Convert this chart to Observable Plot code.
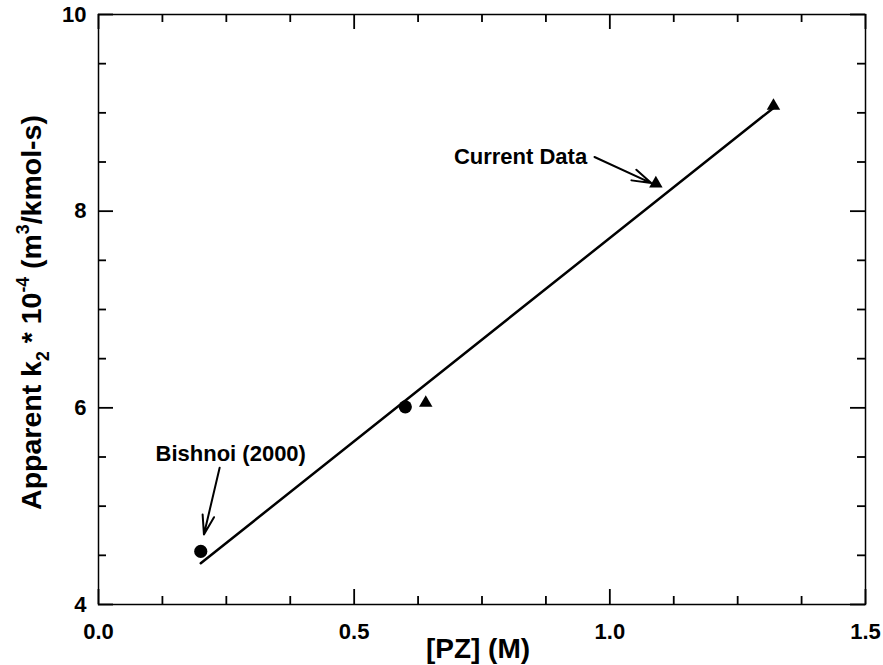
<!DOCTYPE html>
<html>
<head>
<meta charset="utf-8">
<script src="https://cdn.jsdelivr.net/npm/d3@7"></script>
<script src="https://cdn.jsdelivr.net/npm/@observablehq/plot@0.6"></script>
<style>
  html, body { margin: 0; padding: 0; background: #fff; }
  #chart svg text { font-weight: 700; fill: #000; }
</style>
</head>
<body>
<div id="chart"></div>
<script>
// Bishnoi (2000): apparent k2 (×10^-4 m3/kmol-s) against piperazine concentration
const bishnoiPZ = [0.2, 0.6];
const bishnoiK2 = [4.54, 6.01];

// Current data
const currentPZ = [0.64, 1.09, 1.32];
const currentK2 = [6.05, 8.28, 9.07];

// Straight-line fit through the data
const fitPZ = [0.2, 1.32];
const fitK2 = [4.42, 9.05];

// Axis ticks
const xMajorTicks = [0, 0.5, 1.0, 1.5];
const xMinorTicks = [0.125, 0.25, 0.375, 0.625, 0.75, 0.875, 1.125, 1.25, 1.375];
const yMajorTicks = [4, 6, 8, 10];
const yMinorTicks = [4.5, 5, 5.5, 6.5, 7, 7.5, 8.5, 9, 9.5];

// Annotations (data units)
const noteText = ["Current Data", "Bishnoi (2000)"];
const noteX = [0.695, 0.1116];
const noteY = [8.55, 5.536];
const arrowFromX = [0.970, 0.2369];
const arrowFromY = [8.551, 5.391];
const arrowToX = [1.081, 0.2062];
const arrowToY = [8.286, 4.712];

const xLabel = "[PZ] (M)";
const yLabel = "Apparent k2 * 10-4 (m3/kmol-s)";

const W = 883, H = 665, mL = 98, mR = 18, mT = 14, mB = 61;
const innerW = W - mL - mR, innerH = H - mT - mB;
const majorLen = 15, minorLen = 8;
const font = "'Liberation Sans', Arial, Helvetica, sans-serif";

const bishnoi = bishnoiPZ.map((x, i) => ({x, y: bishnoiK2[i]}));
const current = currentPZ.map((x, i) => ({x, y: currentK2[i]}));
const fit = fitPZ.map((x, i) => ({x, y: fitK2[i]}));
const arrows = arrowFromX.map((x1, i) => ({x1, y1: arrowFromY[i], x2: arrowToX[i], y2: arrowToY[i]}));

const tickStyle = {stroke: "#000", strokeWidth: 1.8};

const chart = Plot.plot({
  width: W,
  height: H,
  marginLeft: mL,
  marginRight: mR,
  marginTop: mT,
  marginBottom: mB,
  style: {fontFamily: font, fontWeight: "bold", background: "#fff", color: "#000", overflow: "visible"},
  x: {domain: [0, 1.5]},
  y: {domain: [4, 10]},
  marks: [
    // inward ticks on all four sides
    Plot.tickX(xMajorTicks, {x: d => d, insetTop: innerH - majorLen, ...tickStyle}),
    Plot.tickX(xMinorTicks, {x: d => d, insetTop: innerH - minorLen, ...tickStyle}),
    Plot.tickX(xMajorTicks, {x: d => d, insetBottom: innerH - majorLen, ...tickStyle}),
    Plot.tickX(xMinorTicks, {x: d => d, insetBottom: innerH - minorLen, ...tickStyle}),
    Plot.tickY(yMajorTicks, {y: d => d, insetRight: innerW - majorLen, ...tickStyle}),
    Plot.tickY(yMinorTicks, {y: d => d, insetRight: innerW - minorLen, ...tickStyle}),
    Plot.tickY(yMajorTicks, {y: d => d, insetLeft: innerW - majorLen, ...tickStyle}),
    Plot.tickY(yMinorTicks, {y: d => d, insetLeft: innerW - minorLen, ...tickStyle}),
    Plot.frame({stroke: "#000", strokeWidth: 1.5}),
    // tick labels
    Plot.axisX(xMajorTicks, {tickSize: 0, tickPadding: 19, tickFormat: d3.format(".1f"), fontSize: 22, fontWeight: "bold", label: null}),
    Plot.axisY(yMajorTicks, {tickSize: 0, tickPadding: 12, tickFormat: d => String(d), fontSize: 22, fontWeight: "bold", label: null}),
    // axis titles
    Plot.text([xLabel], {frameAnchor: "bottom", dy: 53, dx: -4, lineAnchor: "bottom", fontSize: 28, fontWeight: "bold"}),
    Plot.text([yLabel], {frameAnchor: "left", dx: -58, dy: 3, rotate: -90, lineAnchor: "bottom", textAnchor: "middle", fontSize: 28.5, fontWeight: "bold"}),
    // fit line and data
    Plot.line(fit, {x: "x", y: "y", stroke: "#000", strokeWidth: 2.5}),
    Plot.dot(bishnoi, {x: "x", y: "y", r: 6.6, fill: "#000", stroke: "none", symbol: "circle"}),
    Plot.dot(current, {x: "x", y: "y", r: 5, fill: "#000", stroke: "none", symbol: "triangle"}),
    // annotations
    Plot.text(noteText, {x: noteX, y: noteY, textAnchor: "start", fontSize: 22, fontWeight: "bold"}),
    Plot.arrow(arrows, {x1: "x1", y1: "y1", x2: "x2", y2: "y2", stroke: "#000", strokeWidth: 2, headLength: 15, headAngle: 34})
  ]
});

// Sub- and superscripts in the y-axis title
for (const t of chart.querySelectorAll("text")) {
  if (t.textContent === yLabel) {
    t.textContent = "";
    const parts = [
      ["Apparent k", 0, null],
      ["2", 8, "0.62em"],
      [" * 10", -8, null],
      ["-4", -12, "0.62em"],
      [" (m", 12, null],
      ["3", -12, "0.62em"],
      ["/kmol-s)", 12, null]
    ];
    for (const [s, dy, size] of parts) {
      const ts = document.createElementNS("http://www.w3.org/2000/svg", "tspan");
      ts.textContent = s;
      if (dy) ts.setAttribute("dy", dy);
      if (size) ts.setAttribute("font-size", size);
      t.appendChild(ts);
    }
  }
}
// All lettering is bold Arial-style
for (const t of chart.querySelectorAll("text")) {
  t.style.fontWeight = "700";
  t.style.fontFamily = font;
}

document.getElementById("chart").appendChild(chart);
</script>
</body>
</html>
